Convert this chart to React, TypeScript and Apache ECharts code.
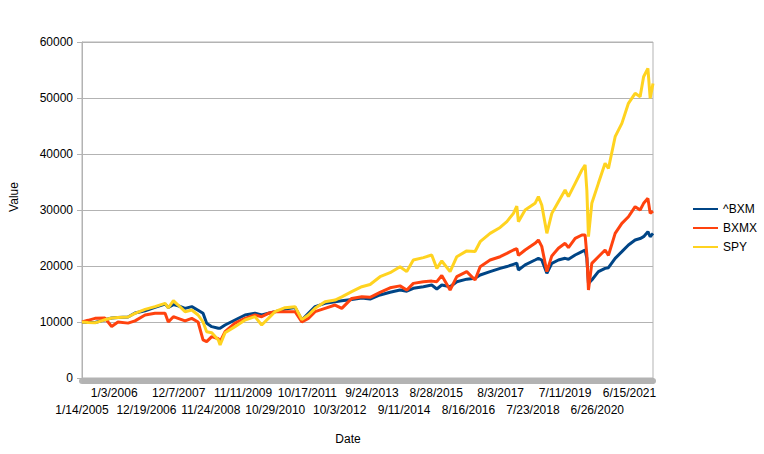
import { useEffect, useRef } from "react";
import * as echarts from "echarts";

// trading-day positions (0 = 1/14/2005) and the values read at them
const dayIndex = [
  0, 45, 97, 171, 221, 268, 343, 395, 470, 544, 619, 643, 681, 716, 768, 818,
  865, 902, 929, 967, 1016, 1029, 1066, 1140, 1215, 1289, 1339, 1389, 1438,
  1513, 1588, 1638, 1687, 1737, 1811, 1886, 1936, 2010, 2085, 2147, 2221, 2296,
  2370, 2420, 2469, 2544, 2606, 2644, 2681, 2743, 2793, 2867, 2929, 2967, 3041,
  3116, 3166, 3215, 3240, 3252, 3302, 3376, 3401, 3426, 3464, 3501, 3550, 3600,
  3625, 3675, 3725, 3749, 3762, 3774, 3799, 3848, 3898, 3923, 3973, 4023, 4072,
  4122, 4159, 4185, 4217, 4234, 4255
];

const bxm = [
  10000, 9900, 9900, 10400, 10700, 10800, 10900, 11600, 12000, 12600, 13200,
  12600, 13100, 12900, 12440, 12740, 12100, 11550, 9760, 9170, 8870, 8900,
  9470, 10360, 11250, 11550, 11250, 11550, 11840, 12300, 12600, 10360, 11550,
  12740, 13330, 13620, 13800, 14030, 14300, 14100, 14830, 15300, 15720, 15500,
  16010, 16300, 16600, 15900, 16600, 16300, 17200, 17650, 17800, 18390, 18990,
  19580, 19900, 20300, 20500, 19290, 20200, 21070, 21370, 21070, 18690, 20470,
  21070, 21370, 21200, 21960, 22560, 22860, 21400, 16900, 17500, 18990, 19580,
  19700, 21370, 22560, 23750, 24640, 24900, 25240, 26120, 25240, 25830
];

const bxmx = [
  10000, 10300, 10650, 10700, 9200, 10000, 9800, 10200, 11250, 11550, 11550,
  10000, 10950, 10650, 10200, 10650, 10000, 6800, 6490, 7380, 7000, 6500, 8270,
  9800, 10650, 11250, 10950, 11550, 11840, 11840, 11840, 10000, 10650, 11840,
  12440, 13030, 12440, 14210, 14500, 14400, 15300, 16100, 16450, 15700, 16900,
  17200, 17300, 17200, 18300, 15710, 18090, 18990, 17500, 19880, 21070, 21660,
  22260, 22860, 23100, 21900, 22860, 24050, 24640, 23500, 19000, 21800, 23160,
  24050, 23300, 24940, 25540, 25540, 22000, 15710, 20470, 21660, 22860, 21900,
  25830, 27620, 28800, 30600, 30000, 31190, 32080, 29400, 29800
];

const spy = [
  10000, 9900, 9850, 10400, 10700, 10800, 10900, 11550, 12260, 12740, 13330,
  12500, 13800, 13030, 11840, 12140, 11250, 10000, 8270, 8090, 6790, 5890, 8090,
  9170, 10360, 10950, 9470, 10650, 11840, 12560, 12740, 10420, 11250, 12440,
  13620, 13920, 14500, 15420, 16300, 16700, 18090, 18800, 19880, 19000, 21070,
  21500, 21960, 19580, 20900, 18990, 21660, 22700, 22600, 24340, 25830, 26880,
  27920, 29400, 30700, 27920, 30000, 31190, 32380, 30900, 25830, 29400, 31490,
  33570, 32380, 34760, 37140, 38040, 33570, 25240, 31190, 34760, 38340, 37400,
  43090, 45470, 49050, 50830, 50230, 53800, 55300, 49940, 52600
];

// category labels, one every 240 trading days (even ones sit on the lower row)
const tickLabels = [
  "1/14/2005", "1/3/2006", "12/19/2006", "12/7/2007", "11/24/2008",
  "11/11/2009", "10/29/2010", "10/17/2011", "10/3/2012", "9/24/2013",
  "9/11/2014", "8/28/2015", "8/16/2016", "8/3/2017", "7/23/2018",
  "7/11/2019", "6/26/2020", "6/15/2021"
];
const LABEL_STEP = 240;
const LAST_DAY = 4255;

const seriesNames = ["^BXM", "BXMX", "SPY"];
const seriesColors = ["#004586", "#ff420e", "#ffd320"];

const FONT = "Liberation Sans";
const GRAY = "#b3b3b3";

const labelFor = (v: number, row: number) => {
  const k = Math.round(v / LABEL_STEP);
  if (Math.abs(v - k * LABEL_STEP) > 0.5 || k >= tickLabels.length) return "";
  return k % 2 === row ? tickLabels[k] : "";
};

function App() {
  const chartRef = useRef<HTMLDivElement>(null);

  useEffect(() => {
    const chart = echarts.init(chartRef.current, null, { renderer: "svg" });
    const values = [bxm, bxmx, spy];

    const baseX = {
      type: "value",
      min: 0,
      max: LAST_DAY,
      interval: LABEL_STEP,
      position: "bottom",
      splitLine: { show: false }
    };

    chart.setOption({
      animation: false,
      textStyle: { fontFamily: FONT },
      grid: {
        left: 82,
        right: 111,
        top: 42,
        bottom: 76,
        show: true,
        borderColor: GRAY,
        borderWidth: 1
      },
      legend: {
        orient: "vertical",
        left: 688,
        top: 197,
        icon: "rect",
        itemWidth: 25,
        itemHeight: 2,
        itemGap: 5,
        data: seriesNames,
        textStyle: { fontSize: 12, color: "#000", lineHeight: 14, fontFamily: FONT }
      },
      xAxis: [
        {
          ...baseX,
          name: "Date",
          nameLocation: "middle",
          nameGap: 55,
          nameTextStyle: { fontSize: 12, color: "#000", padding: [0, 39, 0, 0] },
          axisLine: { show: true, onZero: false, lineStyle: { color: GRAY } },
          axisTick: { show: true, length: 6, lineStyle: { color: GRAY } },
          minorTick: { show: true, splitNumber: 40, length: 6, lineStyle: { color: GRAY } },
          axisLabel: {
            margin: 9,
            fontSize: 12,
            color: "#000",
            showMaxLabel: false,
            formatter: (v: number) => labelFor(v, 1)
          }
        },
        {
          // lower label row; its thick line stands for the dense daily ticks
          ...baseX,
          offset: 3,
          axisLine: { show: true, onZero: false, lineStyle: { color: "#b5b5b5", width: 6 } },
          axisTick: { show: false },
          axisLabel: {
            margin: 23,
            fontSize: 12,
            color: "#000",
            showMinLabel: true,
            showMaxLabel: false,
            formatter: (v: number) => labelFor(v, 0)
          }
        }
      ],
      yAxis: {
        type: "value",
        min: 0,
        max: 60000,
        interval: 10000,
        name: "Value",
        nameLocation: "middle",
        nameGap: 62,
        nameTextStyle: { fontSize: 12, color: "#000", padding: [0, 0, 0, 26] },
        axisLine: { show: true, lineStyle: { color: GRAY } },
        axisTick: { show: true, length: 5, lineStyle: { color: GRAY } },
        splitLine: { show: true, lineStyle: { color: GRAY } },
        axisLabel: {
          margin: 9,
          fontSize: 12,
          color: "#000",
          formatter: (v: number) => String(v)
        }
      },
      series: seriesNames.map((name, i) => ({
        name,
        type: "line",
        xAxisIndex: 0,
        showSymbol: false,
        symbol: "none",
        color: seriesColors[i],
        lineStyle: { width: 3, color: seriesColors[i] },
        data: dayIndex.map((d, j) => [d, values[i][j]])
      }))
    });

    return () => {
      chart.dispose();
    };
  }, []);

  return (
    <div
      ref={chartRef}
      style={{ position: "fixed", left: 0, top: 0, width: 764, height: 454, background: "#fff" }}
    ></div>
  );
}

export default App;
